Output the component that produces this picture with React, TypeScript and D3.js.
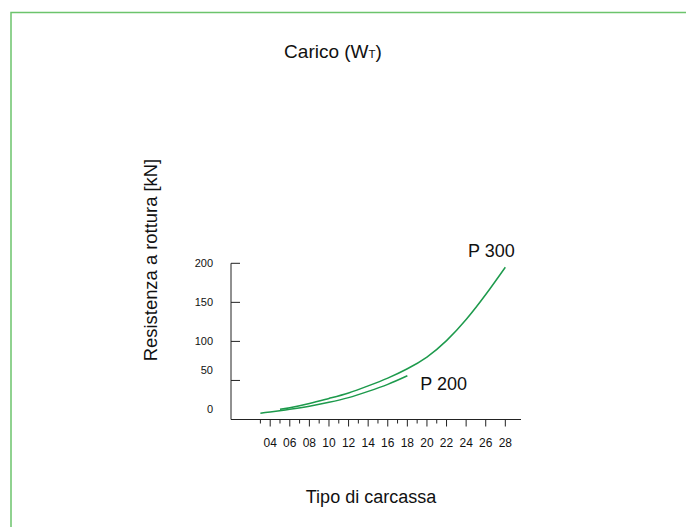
import React, { useEffect, useRef } from 'react';
import * as d3 from 'd3';

// Tipo di carcassa (x) vs Resistenza a rottura [kN] (y)
const p300X = [5, 6, 8, 10, 12, 14, 16, 18, 20, 22, 24, 26, 28];
const p300Y = [13, 15, 20.5, 27, 34, 43, 53, 65, 80, 101, 128, 160, 195];
const p200X = [3, 4, 6, 8, 10, 12, 14, 16, 18];
const p200Y = [8, 9.5, 13, 17, 22, 28, 36, 45, 56];
const yTicks = [0, 50, 100, 150, 200];
const xLabelTicks = [4, 6, 8, 10, 12, 14, 16, 18, 20, 22, 24, 26, 28];
const xMinorTicks = [3, 5, 7, 9, 11, 13, 15, 17, 19, 21];

const W = 686;
const H = 527;
const FONT = '"Liberation Sans", Arial, Helvetica, sans-serif';
const GREEN = '#1d9a4c';

const App: React.FC = () => {
  const svgRef = useRef<SVGSVGElement>(null);

  useEffect(() => {
    if (!svgRef.current) return;
    const svg = d3.select(svgRef.current);
    svg.selectAll('*').remove();

    // frame
    svg.append('path')
      .attr('d', `M11,${H} L11,12.5 L${W},12.5`)
      .attr('fill', 'none')
      .attr('stroke', '#6cc46c')
      .attr('stroke-width', 1.5);

    const x = d3.scaleLinear().domain([0, 29.6]).range([231, 521]);
    const y = d3.scaleLinear().domain([0, 200]).range([419.5, 263.3]);

    const g = svg.append('g');

    // axes
    g.append('line')
      .attr('x1', x(0)).attr('x2', x(0))
      .attr('y1', y(200)).attr('y2', y(0))
      .attr('stroke', '#222');
    g.append('line')
      .attr('x1', x(0)).attr('x2', x(29.6))
      .attr('y1', y(0)).attr('y2', y(0))
      .attr('stroke', '#222');

    // y ticks (pointing inward)
    g.selectAll('.ytick')
      .data(yTicks.filter(v => v > 0))
      .enter()
      .append('line')
      .attr('x1', x(0)).attr('x2', x(0) + 9)
      .attr('y1', d => y(d)).attr('y2', d => y(d))
      .attr('stroke', '#222');

    g.selectAll('.ylabel')
      .data(yTicks)
      .enter()
      .append('text')
      .attr('x', 213)
      .attr('y', d => y(d) + (d <= 50 ? -10.5 : 0))
      .attr('dy', '0.35em')
      .attr('text-anchor', 'end')
      .style('font-family', FONT)
      .style('font-size', '11px')
      .style('fill', '#111')
      .text(d => String(d));

    // x ticks
    g.selectAll('.xtick')
      .data(xLabelTicks)
      .enter()
      .append('line')
      .attr('x1', d => x(d)).attr('x2', d => x(d))
      .attr('y1', y(0)).attr('y2', y(0) + 7)
      .attr('stroke', '#222');
    g.selectAll('.xminor')
      .data(xMinorTicks)
      .enter()
      .append('line')
      .attr('x1', d => x(d)).attr('x2', d => x(d))
      .attr('y1', y(0)).attr('y2', y(0) + 4)
      .attr('stroke', '#222');

    g.selectAll('.xlabel')
      .data(xLabelTicks)
      .enter()
      .append('text')
      .attr('x', d => x(d))
      .attr('y', 447)
      .attr('text-anchor', 'middle')
      .style('font-family', FONT)
      .style('font-size', '12px')
      .style('fill', '#111')
      .text(d => (d < 10 ? '0' + d : String(d)));

    // curves
    const line = d3.line<[number, number]>()
      .x(d => x(d[0]))
      .y(d => y(d[1]))
      .curve(d3.curveNatural);

    const p300 = p300X.map((v, i) => [v, p300Y[i]] as [number, number]);
    const p200 = p200X.map((v, i) => [v, p200Y[i]] as [number, number]);

    [p300, p200].forEach(data => {
      g.append('path')
        .attr('d', line(data))
        .attr('fill', 'none')
        .attr('stroke', GREEN)
        .attr('stroke-width', 1.5);
    });

    const last300 = p300[p300.length - 1];
    const last200 = p200[p200.length - 1];

    g.append('text')
      .attr('x', x(last300[0]) - 14)
      .attr('y', y(last300[1]) - 10)
      .attr('text-anchor', 'middle')
      .style('font-family', FONT)
      .style('font-size', '18px')
      .style('fill', '#111')
      .text('P 300');

    g.append('text')
      .attr('x', x(last200[0]) + 13)
      .attr('y', y(last200[1]) + 14)
      .attr('text-anchor', 'start')
      .style('font-family', FONT)
      .style('font-size', '18px')
      .style('fill', '#111')
      .text('P 200');

    // title
    const title = svg.append('text')
      .attr('x', 333)
      .attr('y', 58)
      .attr('text-anchor', 'middle')
      .style('font-family', FONT)
      .style('font-size', '19px')
      .style('fill', '#111');
    title.append('tspan').text('Carico (W');
    title.append('tspan').style('font-size', '11.5px').text('T');
    title.append('tspan').text(')');

    // axis titles
    svg.append('text')
      .attr('transform', `translate(157,260) rotate(-90)`)
      .attr('text-anchor', 'middle')
      .style('font-family', FONT)
      .style('font-size', '18.4px')
      .style('fill', '#111')
      .text('Resistenza a rottura [kN]');

    svg.append('text')
      .attr('x', 371)
      .attr('y', 503)
      .attr('text-anchor', 'middle')
      .style('font-family', FONT)
      .style('font-size', '18px')
      .style('fill', '#111')
      .text('Tipo di carcassa');
  }, []);

  return (
    <svg
      ref={svgRef}
      width={W}
      height={H}
      style={{ position: 'absolute', left: 0, top: 0, background: '#fff' }}
    />
  );
};

export default App;
